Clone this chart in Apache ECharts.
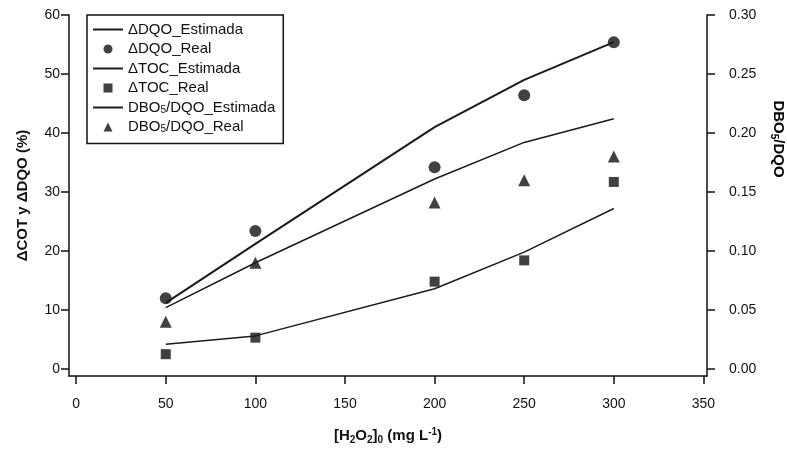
<!DOCTYPE html>
<html>
<head>
<meta charset="utf-8">
<script src="https://cdn.jsdelivr.net/npm/echarts@6/dist/echarts.min.js"></script>
<style>
  html, body { margin: 0; padding: 0; background: #fff; }
  #chart { width: 787px; height: 450px; }
</style>
</head>
<body>
<div id="chart"></div>
<script>
// dose of H2O2 (mg/L)
const xDose = [50, 100, 200, 250, 300];
// left axis (%)
const dqoEst = [11.2, 21.2, 41.0, 49.0, 55.4];
const dqoReal = [12.0, 23.4, 34.2, 46.4, 55.4];
const tocEst = [4.2, 5.6, 13.6, 19.8, 27.2];
const tocReal = [2.5, 5.3, 14.8, 18.4, 31.7];
// right axis
const dboEst = [0.052, 0.090, 0.161, 0.192, 0.212];
const dboReal = [0.040, 0.090, 0.141, 0.160, 0.180];

const xTicks = [0, 50, 100, 150, 200, 250, 300, 350];
const yLeftTicks = [0, 10, 20, 30, 40, 50, 60];
const yRightTicks = [0, 0.05, 0.1, 0.15, 0.2, 0.25, 0.3];

const pairs = (ys) => xDose.map((x, i) => [x, ys[i]]);

const ink = "#111";
const font = "Liberation Sans, Arial, sans-serif";
const rich = {
  b: { fontSize: 15, fontWeight: "bold", fontFamily: font, color: ink, lineHeight: 18 },
  sub: { fontSize: 10, fontWeight: "bold", fontFamily: font, color: ink, lineHeight: 10, verticalAlign: "bottom" },
  sup: { fontSize: 10, fontWeight: "bold", fontFamily: font, color: ink, lineHeight: 10, verticalAlign: "top" },
  l: { fontSize: 15, fontFamily: font, color: ink, lineHeight: 15 },
  ls: { fontSize: 10, fontFamily: font, color: ink, lineHeight: 10, verticalAlign: "bottom" },
};

function lineSeries(name, data, yIdx, width) {
  return {
    name: name, type: "line", data: data, yAxisIndex: yIdx,
    symbol: "none", smooth: false,
    lineStyle: { color: "#1a1a1a", width: width },
    itemStyle: { color: "#1a1a1a" },
  };
}
function dotSeries(name, data, yIdx, symbol, size) {
  return {
    name: name, type: "scatter", data: data, yAxisIndex: yIdx,
    symbol: symbol, symbolSize: size,
    itemStyle: { color: "#111" },
  };
}

const axisCommon = {
  axisLine: { show: true, onZero: false, lineStyle: { color: "#111", width: 1.5 } },
  axisTick: { show: true, inside: false, length: 8, lineStyle: { color: "#111", width: 1.5 } },
  splitLine: { show: false },
};

const noDot = { opacity: 0 };

const option = {
  animation: false,
  backgroundColor: "#fff",
  grid: { left: 69, right: 80, top: 15, bottom: 72 },
  legend: {
    orient: "vertical",
    left: 87, top: 15,
    padding: [7, 8, 9, 5],
    itemWidth: 30, itemHeight: 9, itemGap: 4.5,
    borderColor: "#111", borderWidth: 1.5,
    textStyle: { fontSize: 15, fontFamily: font, color: ink, rich: rich },
    formatter: (name) => {
      if (name.startsWith("DBO5")) return "{l|DBO}{ls|5}{l|" + name.slice(4) + "}";
      return "{l|" + name + "}";
    },
    data: [
      { name: "ΔDQO_Estimada", itemStyle: noDot },
      { name: "ΔDQO_Real" },
      { name: "ΔTOC_Estimada", itemStyle: noDot },
      { name: "ΔTOC_Real", icon: "path://M0,0H10V10H0Z" },
      { name: "DBO5/DQO_Estimada", itemStyle: noDot },
      { name: "DBO5/DQO_Real", icon: "path://M5,0L10,10L0,10Z" },
    ],
  },
  xAxis: {
    type: "value", min: -4, max: 352,
    ...axisCommon,
    axisTick: { ...axisCommon.axisTick, customValues: xTicks },
    axisLabel: { customValues: xTicks, margin: 21, fontSize: 14, fontFamily: font, color: ink },
    name: "{b|[H}{sub|2}{b|O}{sub|2}{b|]}{sub|0}{b| (mg L}{sup|-1}{b|)}",
    nameLocation: "middle", nameGap: 51,
    nameTextStyle: { rich: rich },
  },
  yAxis: [
    {
      type: "value", min: -1.2, max: 60, position: "left",
      ...axisCommon,
      axisTick: { ...axisCommon.axisTick, customValues: yLeftTicks },
      axisLabel: { customValues: yLeftTicks, margin: 9, fontSize: 14, fontFamily: font, color: ink },
      name: "ΔCOT y ΔDQO (%)",
      nameLocation: "middle", nameRotate: 90, nameGap: 39,
      nameTextStyle: { fontSize: 15, fontWeight: "bold", fontFamily: font, color: ink },
    },
    {
      type: "value", min: -0.006, max: 0.3, position: "right",
      ...axisCommon,
      axisTick: { ...axisCommon.axisTick, customValues: yRightTicks },
      axisLabel: {
        customValues: yRightTicks, margin: 22, fontSize: 14, fontFamily: font, color: ink,
        formatter: (v) => v.toFixed(2),
      },
    },
  ],
  graphic: [
    {
      type: "text", x: 778, y: 139, rotation: -Math.PI / 2,
      style: {
        text: "{b|DBO}{sub|5}{b|/DQO}",
        rich: rich, align: "center", verticalAlign: "middle",
      },
    },
  ],
  series: [
    lineSeries("ΔDQO_Estimada", pairs(dqoEst), 0, 2),
    dotSeries("ΔDQO_Real", pairs(dqoReal), 0, "circle", 12),
    lineSeries("ΔTOC_Estimada", pairs(tocEst), 0, 1.5),
    dotSeries("ΔTOC_Real", pairs(tocReal), 0, "rect", 10),
    lineSeries("DBO5/DQO_Estimada", pairs(dboEst), 1, 1.5),
    dotSeries("DBO5/DQO_Real", pairs(dboReal), 1, "triangle", 12),
  ],
};

const myChart = echarts.init(document.getElementById("chart"));
myChart.setOption(option);
window.addEventListener("resize", () => myChart.resize());
</script>
</body>
</html>
